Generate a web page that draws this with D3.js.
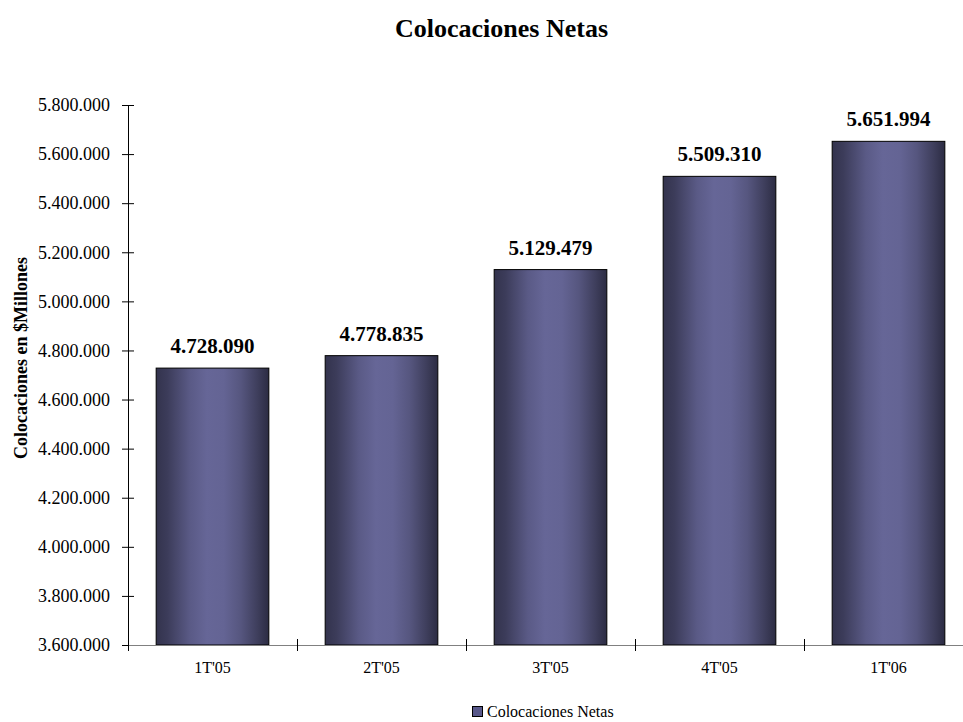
<!DOCTYPE html>
<html>
<head>
<meta charset="utf-8">
<script src="https://cdn.jsdelivr.net/npm/d3@7"></script>
<style>
  html, body { margin: 0; padding: 0; background: #fff; }
  svg { display: block; }
  text { font-family: "Liberation Serif", "Times New Roman", serif; fill: #000; }
</style>
</head>
<body>
<svg id="chart" width="963" height="722"></svg>
<script>
// Quarterly net placements, in millions of pesos
const quarters = ["1T'05", "2T'05", "3T'05", "4T'05", "1T'06"];
const netPlacements = [4728090, 4778835, 5129479, 5509310, 5651994];
const yTicks = [3600000, 3800000, 4000000, 4200000, 4400000, 4600000, 4800000,
                5000000, 5200000, 5400000, 5600000, 5800000];
const valueLabels = ["4.728.090", "4.778.835", "5.129.479", "5.509.310", "5.651.994"];
const titleText = "Colocaciones Netas";
const yAxisTitle = "Colocaciones en $Millones";
const seriesName = "Colocaciones Netas";

const svg = d3.select("#chart");
const width = 963, height = 722;

const plot = { left: 128, right: 973, top: 105, bottom: 645 };

// Spanish-style thousands separator
const fmt = d3.formatLocale({ decimal: ",", thousands: ".", grouping: [3], currency: ["$", ""] }).format(",d");

const x = d3.scaleBand()
  .domain(quarters)
  .range([plot.left, plot.right])
  .paddingInner(1 / 3)
  .paddingOuter(1 / 6);

const y = d3.scaleLinear()
  .domain([yTicks[0], yTicks[yTicks.length - 1]])
  .range([plot.bottom, plot.top]);

// Horizontal shading across each column
const defs = svg.append("defs");
const grad = defs.append("linearGradient")
  .attr("id", "barShade")
  .attr("x1", "0%").attr("x2", "100%").attr("y1", "0%").attr("y2", "0%");
[
  ["0%", "#33334d"],
  ["10%", "#3c3c5a"],
  ["30%", "#5a5a86"],
  ["45%", "#666697"],
  ["60%", "#646494"],
  ["75%", "#56567f"],
  ["90%", "#3e3e5c"],
  ["100%", "#2c2c43"]
].forEach(([o, c]) => grad.append("stop").attr("offset", o).attr("stop-color", c));

// Title
svg.append("text")
  .attr("x", 501.5)
  .attr("y", 37)
  .attr("text-anchor", "middle")
  .style("font-size", "26px")
  .style("font-weight", "bold")
  .text(titleText);

// Bars
svg.append("g")
  .selectAll("rect")
  .data(quarters)
  .join("rect")
  .attr("x", d => x(d))
  .attr("width", x.bandwidth())
  .attr("y", (d, i) => y(netPlacements[i]))
  .attr("height", (d, i) => y(yTicks[0]) - y(netPlacements[i]))
  .attr("fill", "url(#barShade)")
  .attr("stroke", "#000")
  .attr("stroke-width", 1);

// Value labels above bars
svg.append("g")
  .selectAll("text")
  .data(quarters)
  .join("text")
  .attr("x", d => x(d) + x.bandwidth() / 2)
  .attr("y", (d, i) => y(netPlacements[i]) - 15)
  .attr("text-anchor", "middle")
  .style("font-size", "21px")
  .style("font-weight", "bold")
  .text((d, i) => valueLabels[i]);

// Y axis
const yAxis = d3.axisLeft(y)
  .tickValues(yTicks)
  .tickFormat(fmt)
  .tickSize(0)
  .tickPadding(18);
const yG = svg.append("g")
  .attr("transform", `translate(${plot.left},0)`)
  .call(yAxis);
yG.select(".domain").remove();
yG.selectAll(".tick text")
  .style("font-size", "18px")
  .style("font-family", "'Liberation Serif', serif")
  .attr("fill", "#000");
yG.selectAll(".tick")
  .append("line")
  .attr("x1", -6).attr("x2", 6)
  .attr("stroke", "#000");

// X axis baseline and category separators
const step = x.step();
const boundaries = quarters.map(q => x(q) - x.paddingInner() * step / 2)
  .concat([x(quarters[quarters.length - 1]) + x.bandwidth() + x.paddingInner() * step / 2]);

svg.append("line")
  .attr("x1", plot.left).attr("x2", width)
  .attr("y1", plot.bottom + 0.5).attr("y2", plot.bottom + 0.5)
  .attr("stroke", "#808080")
  .attr("stroke-width", 1.2);

svg.append("g")
  .selectAll("line")
  .data(boundaries.slice(1))
  .join("line")
  .attr("x1", d => Math.round(d) + 0.5).attr("x2", d => Math.round(d) + 0.5)
  .attr("y1", plot.bottom - 6).attr("y2", plot.bottom + 6)
  .attr("stroke", "#000");

const xAxis = d3.axisBottom(x).tickSize(0).tickPadding(0);
const xG = svg.append("g")
  .attr("transform", `translate(0,${plot.bottom})`)
  .call(xAxis);
xG.select(".domain").remove();
xG.selectAll(".tick text")
  .attr("dy", null)
  .attr("y", 28)
  .style("font-size", "16px")
  .style("font-family", "'Liberation Serif', serif")
  .attr("fill", "#000");

// Y axis line
svg.append("line")
  .attr("x1", plot.left + 0.5).attr("x2", plot.left + 0.5)
  .attr("y1", plot.top).attr("y2", plot.bottom + 6)
  .attr("stroke", "#000");

// Y axis title
svg.append("text")
  .attr("transform", "translate(27,358) rotate(-90)")
  .attr("text-anchor", "middle")
  .style("font-size", "18px")
  .style("font-weight", "bold")
  .text(yAxisTitle);

// Legend
const legend = svg.append("g").attr("transform", "translate(472,706)");
legend.append("rect")
  .attr("x", 0.5).attr("y", 0.5)
  .attr("width", 10).attr("height", 10)
  .attr("fill", "#58588a")
  .attr("stroke", "#000");
legend.append("text")
  .attr("x", 15)
  .attr("y", 11)
  .style("font-size", "16px")
  .text(seriesName);
</script>
</body>
</html>
